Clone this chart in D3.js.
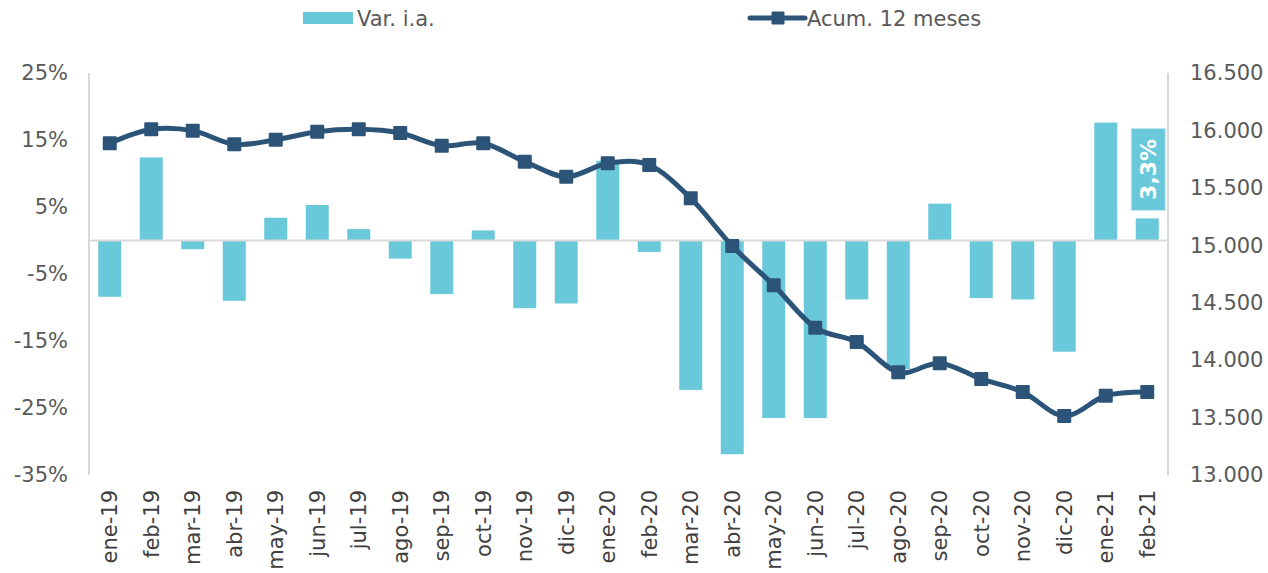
<!DOCTYPE html>
<html>
<head>
<meta charset="utf-8">
<script src="https://cdn.jsdelivr.net/npm/d3@7"></script>
<style>
  body { margin: 0; background: #fff; }
  text { font-family: "DejaVu Sans", Verdana, sans-serif; }
</style>
</head>
<body>
<div id="myChart"></div>
<script>
// Data
let months = [
  "ene-19", "feb-19", "mar-19", "abr-19", "may-19", "jun-19", "jul-19",
  "ago-19", "sep-19", "oct-19", "nov-19", "dic-19", "ene-20", "feb-20",
  "mar-20", "abr-20", "may-20", "jun-20", "jul-20", "ago-20", "sep-20",
  "oct-20", "nov-20", "dic-20", "ene-21", "feb-21",
];
// Var. i.a. (%)
let varIa = [
  -8.4, 12.4, -1.3, -9.0, 3.4, 5.3, 1.7, -2.7, -8.0, 1.5, -10.1, -9.4, 11.9,
  -1.7, -22.3, -31.9, -26.5, -26.5, -8.8, -19.2, 5.5, -8.6, -8.8, -16.6, 17.6,
  3.3,
];
// Acum. 12 meses
let acum12 = [
  15888, 16010, 15998, 15879, 15919, 15989, 16010, 15978, 15867, 15888, 15728,
  15597, 15714, 15699, 15409, 14994, 14652, 14283, 14158, 13894, 13973, 13836,
  13723, 13514, 13690, 13723,
];
let leftTicks = [-35, -25, -15, -5, 5, 15, 25];
let rightTicks = [13000, 13500, 14000, 14500, 15000, 15500, 16000, 16500];
let seriesNames = ["Var. i.a.", "Acum. 12 meses"];
let lastLabel = "3,3%";

let data = months.map((m, i) => ({ month: m, v: varIa[i], a: acum12[i] }));

let W = 1268, H = 573;
let margin = { top: 73, right: 100, bottom: 98, left: 89 },
  width = W - margin.left - margin.right,
  height = H - margin.top - margin.bottom;

let barColor = "#69c8da";
let lineColor = "#2c5478";
let gridColor = "#d9d9d9";
let tickColor = "#595959";

let svg = d3
  .select("#myChart")
  .append("svg")
  .attr("width", W)
  .attr("height", H)
  .append("g")
  .attr("transform", `translate(${margin.left}, ${margin.top})`);

let x = d3.scaleBand().domain(months).range([0, width]).paddingInner(0.446).paddingOuter(0.223);
let xc = d3.scaleBand().domain(months).range([0, width]); // full band for centers
let yL = d3.scaleLinear().domain([-35, 25]).range([height, 0]);
let yR = d3.scaleLinear().domain([13000, 16500]).range([height, 0]);

let esLocale = d3.formatLocale({ decimal: ",", thousands: ".", grouping: [3], currency: ["", ""] });
let fmtR = esLocale.format(",d");

// Left axis
let yAxisL = svg
  .append("g")
  .call(d3.axisLeft(yL).tickValues(leftTicks).tickSize(0).tickPadding(21).tickFormat((d) => d + "%"));
yAxisL.select(".domain").remove();
yAxisL
  .selectAll(".tick text")
  .style("font-size", "21px")
  .style("font-family", "DejaVu Sans")
  .attr("fill", tickColor);

// Right axis
let yAxisR = svg
  .append("g")
  .attr("transform", `translate(${width},0)`)
  .call(d3.axisRight(yR).tickValues(rightTicks).tickSize(0).tickPadding(22).tickFormat(fmtR));
yAxisR.select(".domain").remove();
yAxisR
  .selectAll(".tick text")
  .style("font-size", "21px")
  .style("font-family", "DejaVu Sans")
  .attr("fill", tickColor);

// Vertical axis lines
[0, width].forEach((xx) => {
  svg
    .append("line")
    .attr("x1", xx)
    .attr("x2", xx)
    .attr("y1", 0)
    .attr("y2", height)
    .attr("stroke", gridColor)
    .attr("stroke-width", 2);
});

// Bars
svg
  .selectAll(".bar")
  .data(data)
  .enter()
  .append("rect")
  .attr("class", "bar")
  .attr("x", (d) => x(d.month))
  .attr("width", x.bandwidth())
  .attr("y", (d) => yL(Math.max(0, d.v)))
  .attr("height", (d) => Math.abs(yL(d.v) - yL(0)))
  .attr("fill", barColor);

// Zero line
svg
  .append("line")
  .attr("x1", 0)
  .attr("x2", width)
  .attr("y1", yL(0))
  .attr("y2", yL(0))
  .attr("stroke", gridColor)
  .attr("stroke-width", 2);

// X axis labels
let xAxis = svg
  .append("g")
  .attr("transform", `translate(0,${height})`)
  .call(d3.axisBottom(xc).tickSize(0).tickPadding(0));
xAxis.select(".domain").remove();
xAxis
  .selectAll(".tick text")
  .attr("transform", "rotate(-90)")
  .attr("x", -15)
  .attr("y", 0)
  .attr("dy", "0.35em")
  .style("text-anchor", "end")
  .style("font-size", "21px")
  .style("font-family", "DejaVu Sans")
  .attr("fill", "#404040");

// Line
let line = d3
  .line()
  .x((d) => xc(d.month) + xc.bandwidth() / 2)
  .y((d) => yR(d.a))
  .curve(d3.curveCardinal);

svg
  .append("path")
  .datum(data)
  .attr("d", line)
  .attr("fill", "none")
  .attr("stroke", lineColor)
  .attr("stroke-width", 5);

svg
  .selectAll(".marker")
  .data(data)
  .enter()
  .append("rect")
  .attr("class", "marker")
  .attr("x", (d) => xc(d.month) + xc.bandwidth() / 2 - 6)
  .attr("y", (d) => yR(d.a) - 6)
  .attr("width", 12)
  .attr("height", 12)
  .attr("fill", lineColor)
  .attr("stroke", lineColor)
  .attr("stroke-width", 2)
  .attr("stroke-linejoin", "round");

// Data label on last bar
let last = data[data.length - 1];
let lx = xc(last.month) + xc.bandwidth() / 2 + 1;
let lBottom = yL(last.v) - 8;
let boxH = 82, boxW = 34;
svg
  .append("rect")
  .attr("x", lx - boxW / 2)
  .attr("y", lBottom - boxH)
  .attr("width", boxW)
  .attr("height", boxH)
  .attr("fill", barColor)
  .attr("stroke", "#bfe6ee")
  .attr("stroke-width", 1);
svg
  .append("text")
  .attr("transform", `translate(${lx},${lBottom - boxH / 2}) rotate(-90)`)
  .attr("text-anchor", "middle")
  .attr("dy", "0.36em")
  .style("font-size", "22px")
  .style("font-weight", "bold")
  .style("font-family", "DejaVu Sans")
  .attr("fill", "#fff")
  .text(lastLabel);

// Legend
let legend = svg.append("g").attr("transform", `translate(${-margin.left},${-margin.top})`);

legend
  .append("rect")
  .attr("x", 303)
  .attr("y", 12)
  .attr("width", 50)
  .attr("height", 12)
  .attr("fill", barColor);
legend
  .append("text")
  .attr("x", 357)
  .attr("y", 18)
  .attr("dy", "0.36em")
  .style("font-size", "21px")
  .style("font-family", "DejaVu Sans")
  .attr("fill", tickColor)
  .text(seriesNames[0]);

legend
  .append("line")
  .attr("x1", 750)
  .attr("x2", 805)
  .attr("y1", 18)
  .attr("y2", 18)
  .attr("stroke", lineColor)
  .attr("stroke-width", 5)
  .attr("stroke-linecap", "round");
legend
  .append("rect")
  .attr("x", 772)
  .attr("y", 12)
  .attr("width", 12)
  .attr("height", 12)
  .attr("fill", lineColor)
  .attr("stroke", lineColor)
  .attr("stroke-width", 1)
  .attr("stroke-linejoin", "round");
legend
  .append("text")
  .attr("x", 807)
  .attr("y", 18)
  .attr("dy", "0.36em")
  .style("font-size", "21px")
  .style("font-family", "DejaVu Sans")
  .attr("fill", tickColor)
  .text(seriesNames[1]);
</script>
</body>
</html>
